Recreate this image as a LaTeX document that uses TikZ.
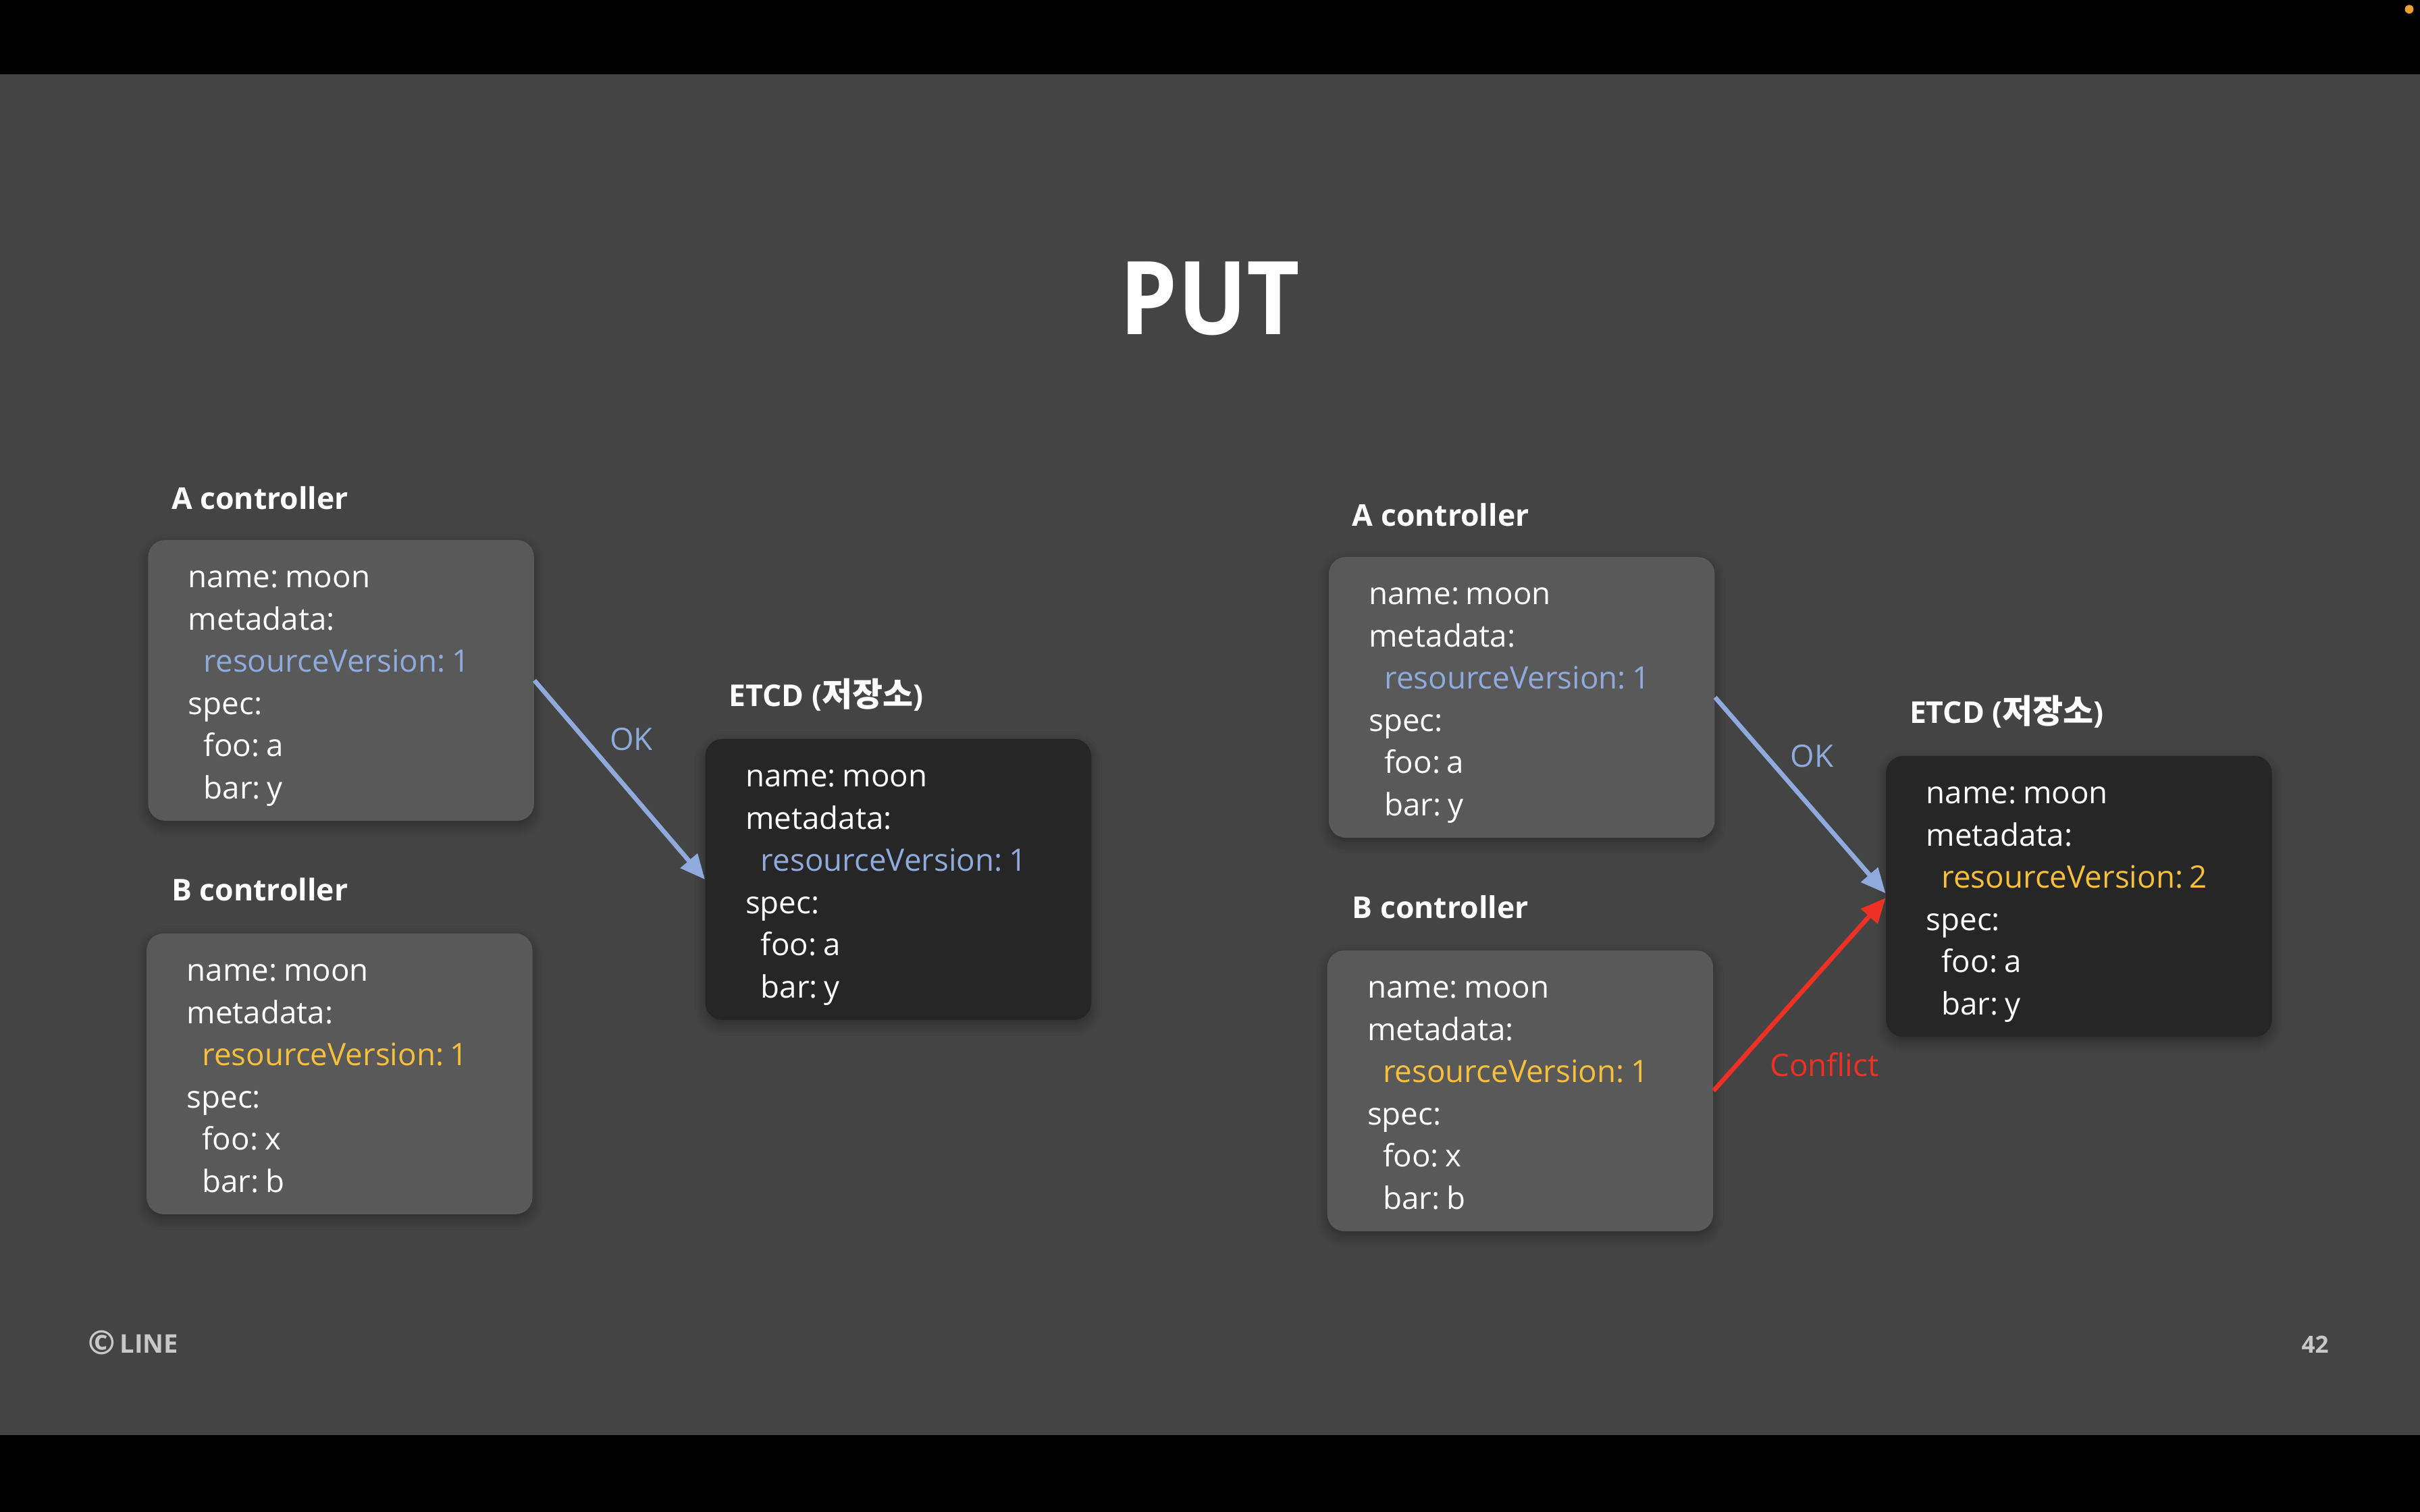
\documentclass[tikz,border=0pt]{standalone}
\usepackage{fontspec}
\setmainfont{Open Sans}
\newfontfamily\krfont[Scale=1.1]{Noto Sans CJK KR}
\newfontfamily\titlefont[FakeStretch=0.9]{Open Sans}
\usetikzlibrary{arrows.meta,shadows.blur,calc}
\definecolor{bgc}{HTML}{444444}
\definecolor{cardc}{HTML}{595959}
\definecolor{etcdc}{HTML}{262626}
\definecolor{hlblue}{HTML}{8FAADC}
\definecolor{hlorange}{HTML}{F6BF3C}
\definecolor{hlred}{HTML}{EE3124}
\definecolor{footc}{HTML}{C8C8C8}
\definecolor{dotc}{HTML}{F0A030}
\newcommand\cardfont{\fontsize{15pt}{20.5pt}\selectfont}
\newcommand\headfont{\fontsize{14.6pt}{20.5pt}\selectfont}
\newcommand\ind{\hspace*{7.5pt}}
\newcommand\topr{\rule{0pt}{17pt}}
\newcommand\botr{\rule[-4.5pt]{0pt}{4.5pt}}
\newcommand\kv[2]{#1:\hspace{3.2pt}#2}
\tikzset{
  card/.style={rounded corners=8.25pt, minimum width=187.5pt, minimum height=136.5pt,
    text width=148.5pt, align=left, inner sep=0pt, text=white, font=\cardfont,
    blur shadow={shadow blur steps=8, shadow xshift=0pt, shadow yshift=-2.5pt, shadow blur radius=5pt, shadow opacity=35}},
  ctrl/.style={card, fill=cardc},
  store/.style={card, fill=etcdc},
  heading/.style={anchor=base west, inner sep=0pt, text=white, font=\headfont\bfseries},
  edgelabel/.style={inner sep=0pt, font=\cardfont},
  flow/.style={line width=2.2pt, -{Triangle[length=12pt, width=10.5pt]}},
}
\begin{document}
\begin{tikzpicture}[x=0.75pt, y=-0.75pt]
\useasboundingbox (0,0) rectangle (1568,980);
\fill[black] (0,0) rectangle (1568,980);
\fill[bgc] (0,48) rectangle (1568,930);
\fill[dotc] (1561,6) circle (2.8);

\node[anchor=base, inner sep=0pt, text=white, font=\fontsize{49.5pt}{50pt}\titlefont\bfseries] (title) at (784,217) {PUT};

% left scenario
\node[heading] (lah) at (111,330) {A controller};
\node[ctrl] (la) at (221,441) {\topr\kv{name}{moon}\\ metadata:\\ \ind\textcolor{hlblue}{\kv{resourceVersion}{1}}\\ spec:\\ \ind\kv{foo}{a}\\ \ind\kv{bar}{y}\botr};
\node[heading] (lbh) at (111,584) {B controller};
\node[ctrl] (lb) at (220,696) {\topr\kv{name}{moon}\\ metadata:\\ \ind\textcolor{hlorange}{\kv{resourceVersion}{1}}\\ spec:\\ \ind\kv{foo}{x}\\ \ind\kv{bar}{b}\botr};
\node[heading] (leh) at (472,458) {ETCD ({\krfont\bfseries 저장소})};
\node[store] (le) at (582,570) {\topr\kv{name}{moon}\\ metadata:\\ \ind\textcolor{hlblue}{\kv{resourceVersion}{1}}\\ spec:\\ \ind\kv{foo}{a}\\ \ind\kv{bar}{y}\botr};
\draw[flow, hlblue] (la.east) -- (le.west);
\node[edgelabel, text=hlblue] (lok) at (409,479) {OK};

% right scenario
\node[heading] (rah) at (876,341) {A controller};
\node[ctrl] (ra) at (986,452) {\topr\kv{name}{moon}\\ metadata:\\ \ind\textcolor{hlblue}{\kv{resourceVersion}{1}}\\ spec:\\ \ind\kv{foo}{a}\\ \ind\kv{bar}{y}\botr};
\node[heading] (rbh) at (876,595) {B controller};
\node[ctrl] (rb) at (985,707) {\topr\kv{name}{moon}\\ metadata:\\ \ind\textcolor{hlorange}{\kv{resourceVersion}{1}}\\ spec:\\ \ind\kv{foo}{x}\\ \ind\kv{bar}{b}\botr};
\node[heading] (reh) at (1237,469) {ETCD ({\krfont\bfseries 저장소})};
\node[store] (re) at (1347,581) {\topr\kv{name}{moon}\\ metadata:\\ \ind\textcolor{hlorange}{\kv{resourceVersion}{2}}\\ spec:\\ \ind\kv{foo}{a}\\ \ind\kv{bar}{y}\botr};
\draw[flow, hlblue] (ra.east) -- ($(re.west)+(0,-2)$);
\node[edgelabel, text=hlblue] (rok) at (1174,490) {OK};
\draw[flow, hlred] (rb.east) -- ($(re.west)+(0,1)$);
\node[edgelabel, text=hlred] (rconf) at (1182,690) {Conflict};

% footer
\node[anchor=base west, inner sep=0pt, text=footc, font=\fontsize{12.5pt}{14pt}\selectfont\bfseries] (copy) at (57,877) {{\fontsize{16pt}{16pt}\selectfont\raisebox{-0.6pt}{©}}\,LINE};
\node[anchor=base east, inner sep=0pt, text=footc, font=\fontsize{11.5pt}{14pt}\selectfont\bfseries] (page) at (1509,877) {42};
\end{tikzpicture}
\end{document}
